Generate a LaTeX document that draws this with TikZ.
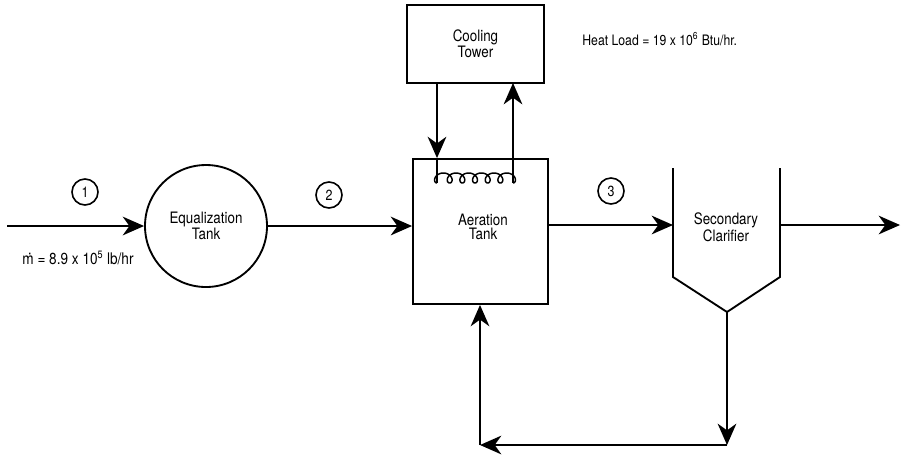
\documentclass[tikz,border=0pt]{standalone}
\usepackage{fontspec}
\setmainfont{TeX Gyre Heros}[FakeStretch=0.85]
\usetikzlibrary{arrows.meta}
\begin{document}
\begin{tikzpicture}[x=0.75pt,y=-0.75pt,
  line width=1.4pt,
  every node/.style={font=\fontsize{11.8}{11}\selectfont, align=center},
  flow/.style={-{Stealth[length=16pt,width=14pt,inset=5pt]}},
  box/.style={draw, rectangle, inner sep=0pt},
  coilline/.style={line width=1.1pt},
  num/.style={draw, circle, minimum size={26*0.75pt}, inner sep=0pt, line width=1.2pt, font=\fontsize{11}{11}\selectfont}]
\useasboundingbox (0,0) rectangle (902,455);
% nodes
\node[box, minimum width={137*0.75pt}, minimum height={78*0.75pt}] (ct) at (475.5,44) {Cooling\\Tower};
\node[box, minimum width={135*0.75pt}, minimum height={145*0.75pt}] (aer) at (480.5,231.5) {};
\node (aertxt) at (483,227) {Aeration\\Tank};
\node[draw, circle, minimum size={122*0.75pt}, inner sep=0pt] (eq) at (206,226) {Equalization\\Tank};
\node[num] (n1) at (85,192) {1};
\node[num] (n2) at (329,195) {2};
\node[num] (n3) at (611,191) {3};
\node[anchor=west, font=\fontsize{10.8}{11}\selectfont] (heat) at (577,39) {Heat Load = 19 x 10\textsuperscript{6} Btu/hr.};
\node[font=\fontsize{12}{11}\selectfont] (mdot) at (78,258) {\.{m} = 8.9 x 10\textsuperscript{5} lb/hr};
\node (clar) at (726,227) {Secondary\\Clarifier};
% clarifier outline
\coordinate (cltl) at (673,168);
\coordinate (clbl) at (673,277);
\coordinate (cltip) at (727,312);
\coordinate (clbr) at (780,277);
\coordinate (cltr) at (780,168);
\draw (cltl) -- (clbl) -- (cltip) -- (clbr) -- (cltr);
% coordinates
\coordinate (in) at (7,226);
\coordinate (out) at (900,225);
\coordinate (c1) at (727,445);
\coordinate (c2) at (480,445);
\coordinate (cdown) at (437,83);
\coordinate (cup) at (513,83);
\coordinate (coilL) at (437,183);
\coordinate (coilR) at (513,183);
% main flow
\draw[flow] (in) -- (eq.west);
\draw[flow] (eq.east) -- (eq.east -| aer.west);
\draw[flow] (aer.east |- 0,225) -- (cltl |- 0,225);
\draw[flow] (cltr |- 0,225) -- (out);
% cooling loop
\draw[flow] (cdown) -- (cdown |- aer.north);
\draw[coilline] (cdown |- aer.north) -- (coilL);
\draw[coilline] plot[domain=0:37.699, samples=300, variable=\t] ({437 + 2.0167*\t - 5.2*sin(\t r)}, {178 + 5*cos(\t r)});
\draw[flow] (coilR) -- (cup);
% recycle
\draw[flow] (cltip) -- (c1);
\draw[flow] (c1) -- (c2);
\draw[flow] (c2) -- (c2 |- aer.south);
\end{tikzpicture}
\end{document}
